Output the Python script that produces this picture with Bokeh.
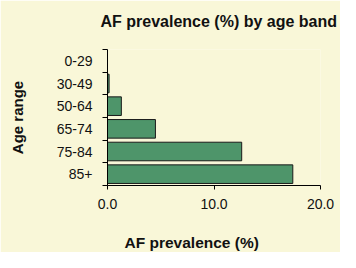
from bokeh.plotting import figure
from bokeh.models import FixedTicker, NumeralTickFormatter, Range1d, Title
from bokeh.embed import file_html
from bokeh.resources import INLINE

age_bands = ["0-29", "30-49", "50-64", "65-74", "75-84", "85+"]
prevalence = [0.0, 0.15, 1.3, 4.5, 12.6, 17.4]
x_ticks = [0, 10, 20]

n = len(age_bands)
ypos = [n - 1 - i for i in range(n)]  # first band at top

FONT = "Liberation Sans"
BG = "#F9F7D8"
INK = "#111111"

p = figure(width=340, height=252, output_backend="svg", toolbar_location=None,
           x_range=Range1d(0, 20), y_range=Range1d(-0.5, n - 0.5),
           min_border_left=107, min_border_right=20, min_border_top=47,
           min_border_bottom=67)
p.title = None
p.background_fill_color = BG
p.border_fill_color = BG
p.outline_line_color = None
p.grid.visible = False

# above: spacer (next to frame), then the chart title
p.add_layout(Title(text="\u00a0", text_font_size="1px", standoff=7), "above")
p.add_layout(Title(text="AF prevalence (%)  by age band", align="left", offset=-7,
                   standoff=20, text_font=FONT, text_font_size="16px",
                   text_font_style="bold", text_color=INK), "above")

p.hbar(y=ypos, right=prevalence, left=0, height=0.82,
       fill_color="#4E956A", line_color="#1A1A1A", line_width=1)

# x axis
xa = p.xaxis[0]
xa.ticker = FixedTicker(ticks=x_ticks)
xa.formatter = NumeralTickFormatter(format="0.0")
xa.axis_line_color = "black"
xa.major_tick_line_color = "black"
xa.major_tick_out = 4
xa.major_tick_in = 0
xa.minor_tick_line_color = None
xa.major_label_text_font = FONT
xa.major_label_text_font_size = "14px"
xa.major_label_text_color = INK
xa.major_label_standoff = 9

# below: spacer, then the x axis title
p.add_layout(Title(text="\u00a0", text_font_size="1px", standoff=17), "below")
p.add_layout(Title(text="AF prevalence (%)", align="left", offset=17, standoff=0,
                   text_font=FONT, text_font_size="15.5px", text_font_style="bold",
                   text_color=INK), "below")

# y axis
ya = p.yaxis[0]
ya.ticker = FixedTicker(ticks=ypos, minor_ticks=[i - 0.5 for i in range(n + 1)])
ya.major_label_overrides = {ypos[i]: age_bands[i] for i in range(n)}
ya.axis_line_color = "black"
ya.major_tick_line_color = None
ya.minor_tick_line_color = "black"
ya.minor_tick_out = 5
ya.minor_tick_in = 0
ya.major_label_text_font = FONT
ya.major_label_text_font_size = "14px"
ya.major_label_text_color = INK
ya.major_label_standoff = 9
ya.axis_label = "Age range"
ya.axis_label_standoff = 28
ya.axis_label_text_font = FONT
ya.axis_label_text_font_size = "15px"
ya.axis_label_text_font_style = "bold"
ya.axis_label_text_color = INK

open("out.html", "w").write(file_html(p, INLINE))
